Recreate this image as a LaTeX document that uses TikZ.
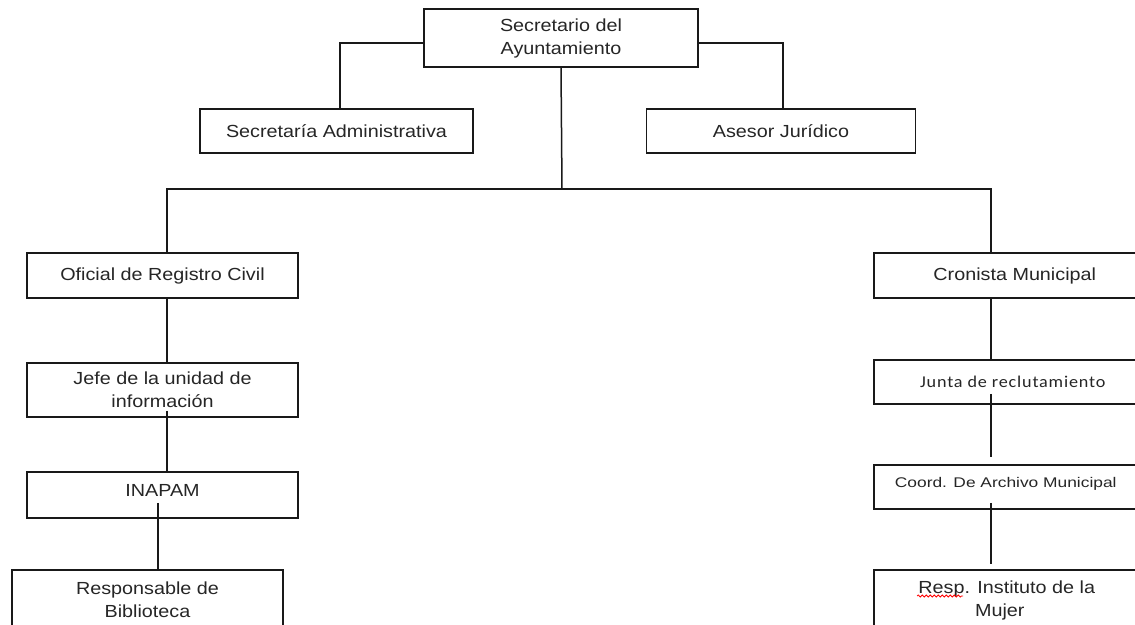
\documentclass[tikz,border=0pt]{standalone}
\usepackage{fontspec}
\setmainfont{Liberation Sans}[FakeStretch=1.13]
\newfontfamily\calib{Carlito}[FakeStretch=1.1,LetterSpace=5]
\newfontfamily\narrowA{Liberation Sans}[FakeStretch=1.24]
\usetikzlibrary{decorations.pathmorphing}
\tikzset{
  box/.style={draw=black!90, line width=1.5pt, rectangle, inner sep=0pt, align=center,
    text=black!85, font=\fontsize{17.5}{23}\selectfont},
  conn/.style={draw=black!90, line width=1.5pt},
}
\begin{document}
\begin{tikzpicture}[x=1pt,y=-1pt]
\useasboundingbox (0,0) rectangle (1135,624);
\clip (0,0) rectangle (1135,624);
\fill[white] (0,0) rectangle (1135,624);
% top
\node[box, minimum width=274pt, minimum height=58pt] (top) at (561,38) {Secretario del\\Ayuntamiento};
\node[box, minimum width=273pt, minimum height=44pt] (sa) at (336.5,131) {Secretaría Administrativa};
\node[box, minimum width=269pt, minimum height=44pt] (aj) at (781,131) {Asesor Jurídico};
% left column
\node[box, minimum width=271pt, minimum height=45pt] (ofi) at (162.5,275.5) {Oficial de Registro Civil};
\node[box, minimum width=271pt, minimum height=54pt] (jefe) at (162.5,390) {Jefe de la unidad de\\información};
\node[box, minimum width=271pt, minimum height=46pt] (inapam) at (162.5,495) {\smash{\raisebox{-1pt}{INAPAM}}};
\node[box, minimum width=271pt, minimum height=60pt] (resp) at (147.5,600) {Responsable de\\Biblioteca};
% right column
\node[box, anchor=west, minimum width=300pt, minimum height=45pt] (cro) at (873,275.5) {\hspace*{-18pt}Cronista Municipal};
\node[box, anchor=west, minimum width=300pt, minimum height=44pt] (junta) at (873,382) {\hspace*{-22pt}\calib\fontsize{16.5}{20}\selectfont Junta de reclutamiento};
\node[box, anchor=west, minimum width=300pt, minimum height=44pt] (coord) at (873,487) {\hspace*{-36pt}\narrowA\fontsize{14}{18}\selectfont\smash{Coord. De Archivo Municipal}};
\node[box, anchor=west, minimum width=300pt, minimum height=60pt] (rim) at (873,600) {\hspace*{-34pt}Resp. Instituto de la\\\hspace*{-48pt}Mujer};
\draw[red, line width=0.8pt, decorate, decoration={snake, amplitude=1pt, segment length=4pt}] (917,596) -- (963,596);
% connectors
\coordinate (bar) at (562,189);
\draw[conn] ([yshift=-5pt]top.west) -| ([xshift=3.5pt]sa.north);
\draw[conn] ([yshift=-5pt]top.east) -| ([xshift=2pt]aj.north);
\draw[conn] (top.south) -- (bar);
\draw[conn] ([xshift=4.5pt]ofi.north) |- (bar) -| ([xshift=-33pt]cro.north);
\draw[conn] ([xshift=4.5pt]ofi.south) -- ([xshift=4.5pt]jefe.north);
\draw[conn] ([xshift=4.5pt,yshift=7pt]jefe.south) -- ([xshift=4.5pt]inapam.north);
\draw[conn] ([xshift=-4.5pt,yshift=16pt]inapam.south) -- ([xshift=10.5pt]resp.north);
\draw[conn] ([xshift=-33pt]cro.south) -- ([xshift=-33pt]junta.north);
\draw[conn] ([xshift=-33pt,yshift=11pt]junta.south) -- ([xshift=-33pt,yshift=7pt]coord.north);
\draw[conn] ([xshift=-33pt,yshift=7pt]coord.south) -- ([xshift=-33pt,yshift=5pt]rim.north);
\end{tikzpicture}
\end{document}
